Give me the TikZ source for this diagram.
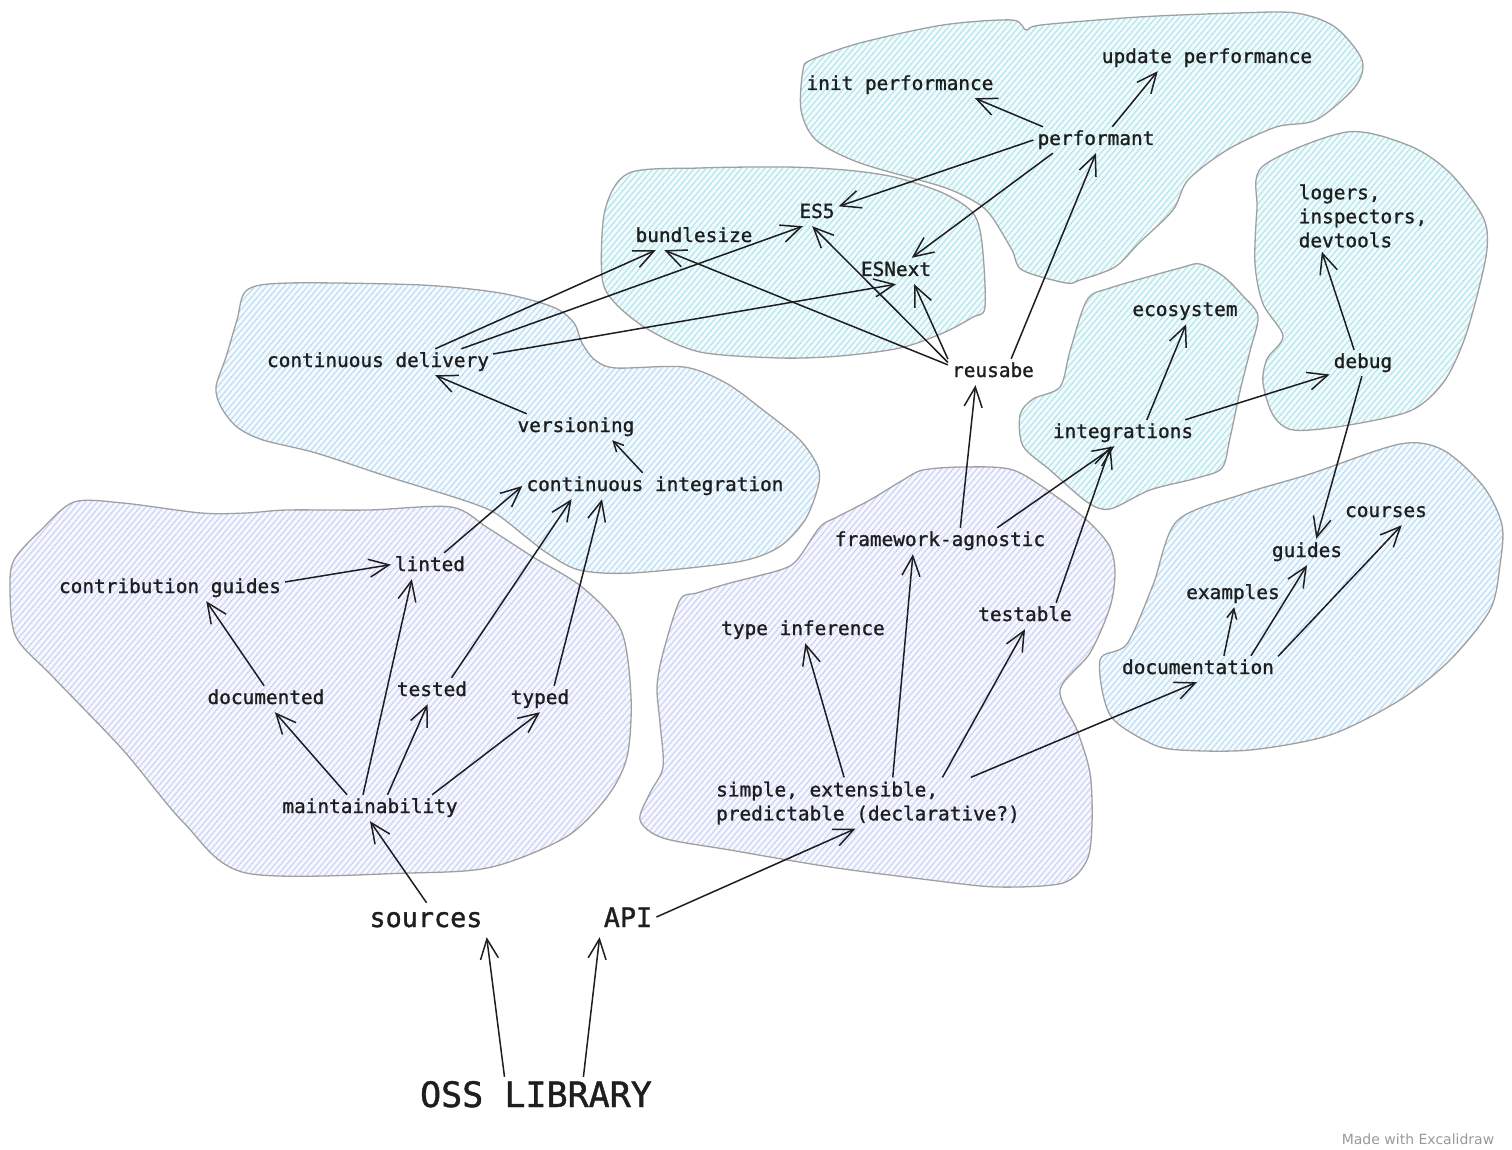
\documentclass[tikz,border=0pt]{standalone}
\usepackage{fontspec}
\newfontfamily\monofont[FakeBold=1.2]{DejaVu Sans Mono}
\newfontfamily\notefont{DejaVu Sans}
\usetikzlibrary{arrows.meta,patterns.meta}
\definecolor{inkc}{HTML}{1E1E1E}
\definecolor{edgec}{HTML}{A0A0A0}
\definecolor{lavc}{HTML}{C8D1F8}
\definecolor{bluec}{HTML}{B9DCF5}
\definecolor{cyanc}{HTML}{ADE5EE}
\tikzset{
  blob/.style={draw=edgec, line width=1.3pt, preaction={fill=#1!15}, pattern={Lines[angle=50,distance=4.5pt,line width=1.1pt]}, pattern color=#1},
  txt/.style={font=\monofont\fontsize{19.4}{24}\selectfont, text=inkc, inner sep=4pt},
  lbl/.style={txt, text height=14pt, text depth=4pt},
  big/.style={font=\monofont\fontsize{26.8}{30}\selectfont, text=inkc, inner sep=4pt, text height=20pt, text depth=6pt},
  arr/.style={draw=inkc, line width=1.5pt, -{Straight Barb[length=20pt,width=18pt]}},
  sarr/.style={arr, -{Straight Barb[length=10pt,width=10pt]}},
}
\begin{document}
\begin{tikzpicture}[x=1pt, y=-1pt]
  \fill[white] (0,0) rectangle (1512,1150);
  \useasboundingbox (0,0) rectangle (1512,1150);
  % clouds
  \draw[blob=bluec] plot[smooth cycle] coordinates {(247,290) (289,283) (421,285) (500,293) (553,307) (574,323) (582,343) (595,360) (616,368) (684,367) (726,383) (763,410) (800,440) (818,467) (818,487) (805,520) (779,547) (737,562) (632,573) (579,570) (547,553) (526,537) (495,513) (463,500) (389,477) (316,453) (263,440) (237,427) (221,407) (216,387) (226,357) (237,320)};
  \draw[blob=lavc] plot[smooth cycle] coordinates {(14,560) (41,530) (74,502) (123,503) (201,513) (246,513) (287,510) (369,510) (451,507) (488,528) (533,557) (582,587) (621,630) (631,697) (627,757) (607,797) (566,837) (492,867) (410,873) (246,873) (184,823) (123,750) (53,677) (16,637) (10,590)};
  \draw[blob=cyanc] plot[smooth cycle] coordinates {(629,173) (700,168) (786,167) (845,170) (894,177) (943,193) (973,213) (982,243) (985,307) (973,317) (943,333) (900,348) (840,356) (780,358) (700,352) (649,330) (615,303) (602,277) (605,210)};
  \draw[blob=cyanc] plot[smooth cycle] coordinates {(803,70) (811,60) (860,43) (943,25) (1012,20) (1026,30) (1041,25) (1139,17) (1237,13) (1296,13) (1335,27) (1362,60) (1355,87) (1316,120) (1276,127) (1227,150) (1188,180) (1173,210) (1139,243) (1115,267) (1080,280) (1066,283) (1022,270) (1012,250) (992,217) (977,203) (943,187) (860,163) (816,140) (801,110)};
  \draw[blob=cyanc] plot[smooth cycle] coordinates {(1110,288) (1180,268) (1200,264) (1223,276) (1243,296) (1258,316) (1250,351) (1240,391) (1230,438) (1222,468) (1197,478) (1150,490) (1110,509) (1087,502) (1050,470) (1023,446) (1020,415) (1033,399) (1060,387) (1070,351) (1087,300)};
  \draw[blob=cyanc] plot[smooth cycle] coordinates {(1263,166) (1347,132) (1410,146) (1450,173) (1483,217) (1487,249) (1477,296) (1463,343) (1443,383) (1410,411) (1343,426) (1293,430) (1273,415) (1263,383) (1267,359) (1283,336) (1263,304) (1255,264) (1257,209)};
  \draw[blob=bluec] plot[smooth cycle] coordinates {(1177,521) (1243,494) (1310,474) (1400,444) (1443,450) (1483,486) (1502,525) (1500,565) (1490,610) (1450,660) (1400,700) (1330,735) (1250,750) (1180,750) (1150,743) (1110,715) (1100,660) (1127,644) (1153,585)};
  \draw[blob=lavc] plot[smooth cycle] coordinates {(923,470) (963,467) (1013,470) (1057,497) (1090,523) (1110,547) (1115,573) (1110,607) (1090,653) (1060,690) (1077,730) (1090,773) (1092,823) (1087,860) (1063,883) (997,887) (930,880) (830,867) (730,850) (663,838) (640,820) (650,793) (663,767) (660,723) (657,687) (663,653) (680,600) (697,593) (730,583) (780,570) (797,560) (820,527) (837,517) (870,500) (903,480)};
  % labels
  \node[lbl] (initp) at (900,85) {init performance};
  \node[lbl] (updp) at (1207,58) {update performance};
  \node[lbl] (perf) at (1096,140) {performant};
  \node[lbl] (esfive) at (817,213) {ES5};
  \node[lbl] (bsize) at (694,237) {bundlesize};
  \node[lbl] (esnext) at (896,271) {ESNext};
  \node[lbl] (cdel) at (378,362) {continuous delivery};
  \node[lbl] (reus) at (993,372) {reusabe};
  \node[lbl] (eco) at (1185,311) {ecosystem};
  \node[txt, align=left] (logs) at (1363,216) {logers,\\inspectors,\\devtools};
  \node[lbl] (debug) at (1363,363) {debug};
  \node[lbl] (vers) at (576,427) {versioning};
  \node[lbl] (integ) at (1123,433) {integrations};
  \node[lbl] (cint) at (655,486) {continuous integration};
  \node[lbl] (fagn) at (940,541) {framework-agnostic};
  \node[lbl] (courses) at (1386,512) {courses};
  \node[lbl] (guides) at (1307,552) {guides};
  \node[lbl] (linted) at (430,566) {linted};
  \node[lbl] (cguide) at (170,588) {contribution guides};
  \node[lbl] (examples) at (1233,594) {examples};
  \node[lbl] (testable) at (1025,616) {testable};
  \node[lbl] (tinf) at (803,630) {type inference};
  \node[lbl] (docn) at (1198,669) {documentation};
  \node[lbl] (docd) at (266,699) {documented};
  \node[lbl] (tested) at (432,691) {tested};
  \node[lbl] (typed) at (540,699) {typed};
  \node[lbl] (maint) at (370,808) {maintainability};
  \node[txt, align=left] (simple) at (868,803) {simple, extensible,\\predictable (declarative?)};
  \node[big] (sources) at (426,920) {sources};
  \node[big] (api) at (628,920) {API};
  \node[big, font=\monofont\fontsize{35}{40}\selectfont, text height=26pt, text depth=2pt] (oss) at (536,1095) {OSS LIBRARY};
  \node[font=\notefont\fontsize{14}{16}\selectfont, text=black!40] (made) at (1418,1139) {Made with Excalidraw};
  % arrows
  \draw[arr] (oss.150) -- (sources.south east);
  \draw[arr] (oss.21) -- (api.south west);
  \draw[arr] (sources.88) -- (maint.-90);
  \draw[arr] (api.6) -- (simple.-116);
  \draw[arr] (maint.150) -- (docd.-56);
  \draw[arr] (maint.118) -- (linted.-144);
  \draw[arr] (maint.37) -- (tested.-108);
  \draw[arr] (maint.12) -- (typed.-90);
  \draw[arr] (docd.98) -- (cguide.-20);
  \draw[arr] (cguide.3) -- (linted.178);
  \draw[arr] (linted.43) -- (cint.180);
  \draw[arr] (tested.34) -- (cint.-171);
  \draw[arr] (typed.43) -- (cint.-166);
  \draw[sarr] (cint.133) -- (vers.-20);
  \draw[arr] (vers.165) -- (cdel.-13);
  \draw[arr] (cdel.13) -- (bsize.-161);
  \draw[arr] (cdel.9) -- (esfive.-137);
  \draw[arr] (cdel.4) -- (esnext.-90);
  \draw[arr] (reus.171) -- (bsize.-156);
  \draw[arr] (reus.168) -- (esfive.-110);
  \draw[arr] (reus.164) -- (esnext.-36);
  \draw[arr] (reus.36) -- (perf.-90);
  \draw[arr] (perf.166) -- (initp.-10);
  \draw[arr] (perf.39) -- (updp.-165);
  \draw[arr] (perf.180) -- (esfive.17);
  \draw[arr] (perf.-163) -- (esnext.40);
  \draw[arr] (fagn.33) -- (reus.-143);
  \draw[arr] (fagn.13) -- (integ.-123);
  \draw[arr] (testable.23) -- (integ.-133);
  \draw[arr] (integ.29) -- (eco.-85);
  \draw[arr] (integ.12) -- (debug.-161);
  \draw[arr] (debug.124) -- (logs.-139);
  \draw[arr] (debug.-95) -- (guides.55);
  \draw[sarr] (docn.27) -- (examples.-85);
  \draw[arr] (docn.14) -- (guides.-90);
  \draw[arr] (docn.9) -- (courses.-40);
  \draw[arr] (simple.133) -- (tinf.-80);
  \draw[arr] (simple.46) -- (fagn.-154);
  \draw[arr] (simple.19) -- (testable.-90);
  \draw[arr] (simple.14) -- (docn.-95);
\end{tikzpicture}
\end{document}
